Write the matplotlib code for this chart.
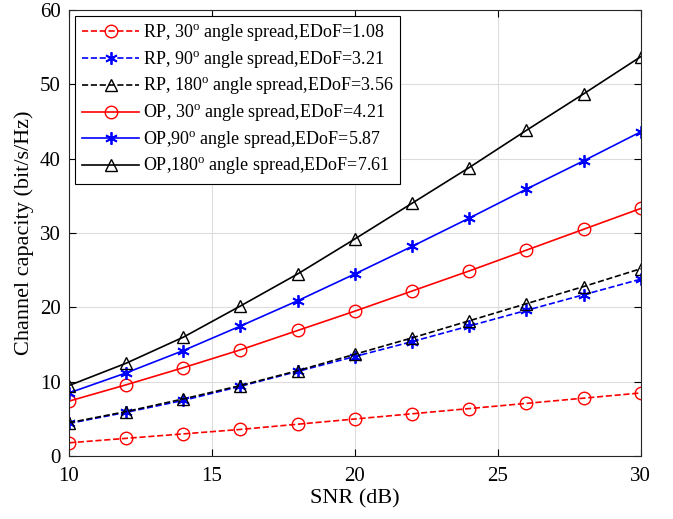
import numpy as np
import matplotlib.pyplot as plt
import matplotlib

matplotlib.rcParams['font.family'] = ['Liberation Serif', 'DejaVu Serif']
matplotlib.rcParams['mathtext.fontset'] = 'custom'
matplotlib.rcParams['mathtext.rm'] = 'Liberation Serif'

snr = [10, 12, 14, 16, 18, 20, 22, 24, 26, 28, 30]

rp30 = [1.8, 2.4, 3.0, 3.6, 4.3, 5.0, 5.7, 6.4, 7.1, 7.8, 8.5]
rp90 = [4.4, 5.9, 7.5, 9.4, 11.4, 13.4, 15.4, 17.5, 19.6, 21.7, 23.8]
rp180 = [4.5, 6.0, 7.7, 9.5, 11.5, 13.7, 15.9, 18.2, 20.5, 22.8, 25.2]
op30 = [7.4, 9.6, 11.9, 14.3, 16.9, 19.5, 22.2, 24.9, 27.7, 30.5, 33.3]
op90 = [8.5, 11.2, 14.2, 17.5, 20.9, 24.5, 28.2, 32.0, 35.9, 39.7, 43.6]
op180 = [9.5, 12.5, 16.0, 20.2, 24.5, 29.2, 34.0, 38.8, 43.8, 48.7, 53.7]

labels = [r'RP, 30$^{\rm o}$ angle spread,EDoF=1.08',
          r'RP, 90$^{\rm o}$ angle spread,EDoF=3.21',
          r'RP, 180$^{\rm o}$ angle spread,EDoF=3.56',
          r'OP, 30$^{\rm o}$ angle spread,EDoF=4.21',
          r'OP,90$^{\rm o}$ angle spread,EDoF=5.87',
          r'OP,180$^{\rm o}$ angle spread,EDoF=7.61']

fig = plt.figure(figsize=(6.73, 5.19), dpi=100)
ax = fig.add_axes([0.1025, 0.121, 0.8495, 0.86])

ms = 9
star = (6, 2, 0)  # matlab style asterisk
ax.plot(snr, rp30, 'r--', marker='o', mfc='none', ms=ms, lw=1.2, label=labels[0])
ax.plot(snr, rp90, 'b--', marker=star, ms=ms, mew=1.3, lw=1.2, label=labels[1])
ax.plot(snr, rp180, 'k--', marker='^', mfc='none', ms=ms, lw=1.2, label=labels[2])
ax.plot(snr, op30, 'r-', marker='o', mfc='none', ms=ms, lw=1.2, label=labels[3])
ax.plot(snr, op90, 'b-', marker=star, ms=ms, mew=1.3, lw=1.2, label=labels[4])
ax.plot(snr, op180, 'k-', marker='^', mfc='none', ms=ms, lw=1.2, label=labels[5])

ax.set_xlim(10, 30)
ax.set_ylim(0, 60)
ax.set_xticks([10, 15, 20, 25, 30])
ax.set_yticks(np.arange(0, 61, 10))
ax.grid(True, color='#dddddd', lw=0.8)
ax.set_axisbelow(True)
ax.tick_params(direction='in', top=True, right=True, labelsize=15, length=5)
ax.tick_params(axis='x', pad=8)
ax.tick_params(axis='y', pad=6)
for s in ax.spines.values():
    s.set_color('#262626')
ax.set_xlabel('SNR (dB)', fontsize=16, labelpad=2)
ax.set_ylabel('Channel capacity (bit/s/Hz)', fontsize=16)

leg = ax.legend(loc='upper left', fontsize=13, fancybox=False, edgecolor='black',
                framealpha=1, handlelength=3.2, borderaxespad=0.35, borderpad=0.35,
                labelspacing=0.3, handletextpad=0.2)
leg.get_frame().set_linewidth(0.8)

fig.savefig('out.png', dpi=100)
